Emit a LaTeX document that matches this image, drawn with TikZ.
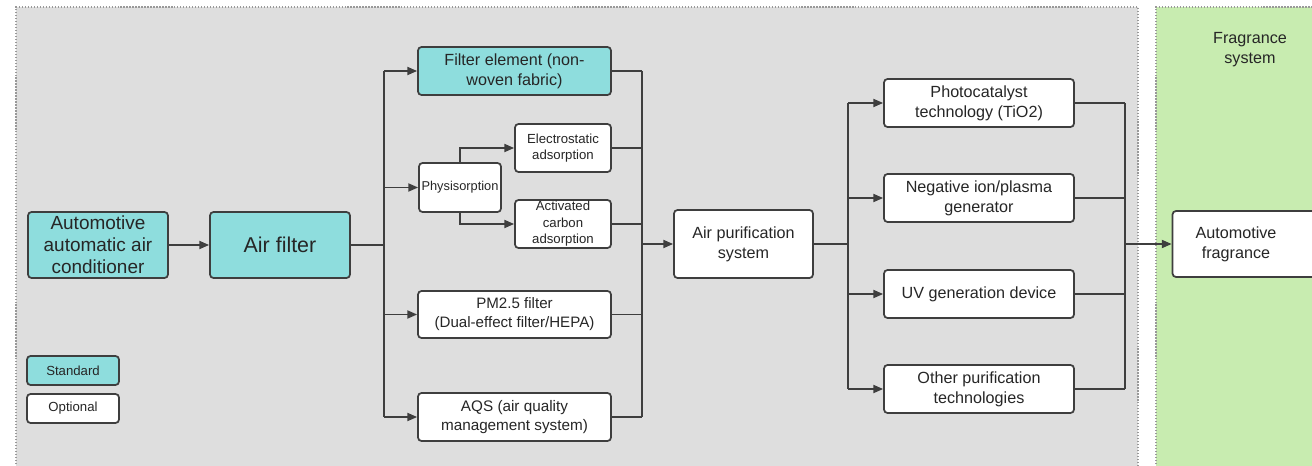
\documentclass[tikz,border=0pt]{standalone}
\usepackage{fontspec}
\setmainfont{Liberation Sans}
\usetikzlibrary{arrows.meta}

\definecolor{stdCyan}{RGB}{142,221,221}
\definecolor{panelGray}{RGB}{222,222,222}
\definecolor{panelGreen}{RGB}{200,236,176}
\definecolor{lineGray}{RGB}{62,62,62}
\definecolor{textGray}{RGB}{38,38,38}

\begin{document}
\begin{tikzpicture}[x=0.02cm,y=-0.02cm,
        line width=1pt,
        baseNode/.style = {draw=lineGray,rounded corners=2pt,text=textGray,align=center,inner sep=0pt,font=\fontsize{9.2}{11.3}\selectfont},
        stdNode/.style = {baseNode,fill=stdCyan},
        optNode/.style = {baseNode,fill=white},
        wideBox/.style = {minimum width=3.86cm,minimum height=0.96cm},
        techBox/.style = {optNode,minimum width=3.8cm,minimum height=0.96cm},
        smallBox/.style = {optNode,minimum width=1.92cm,minimum height=0.96cm,font=\fontsize{7.5}{9.4}\selectfont},
        legendBox/.style = {minimum width=1.84cm,minimum height=0.58cm,font=\fontsize{7.5}{9}\selectfont},
        link/.style = {draw=lineGray,line width=1pt},
        arrowLink/.style = {link,-{Triangle[length=5.6pt,width=4.6pt]}},
        panel/.style = {draw=gray!80,densely dotted,line width=0.7pt}
        ]
    \useasboundingbox (0,0) rectangle (1312,466);
    % background panels
    \fill[panelGray] (16,7) rectangle (1138,470);
    \draw[panel] (16,470) -- (16,7) -- (1138,7) -- (1138,470);
    \fill[panelGreen] (1156,7) rectangle (1320,470);
    \draw[panel] (1156,470) -- (1156,7) -- (1320,7);
    \node[text=textGray,align=center,font=\fontsize{9.2}{11.3}\selectfont] (fragSys) at (1250,50) {Fragrance\\system};

    % source chain
    \node[stdNode,minimum width=2.8cm,minimum height=1.32cm,font=\fontsize{10.8}{12.6}\selectfont] (autoAc) at (98,245) {Automotive\\automatic air\\conditioner};
    \node[stdNode,minimum width=2.8cm,minimum height=1.32cm,font=\fontsize{12.2}{14}\selectfont] (airFilter) at (280,245) {Air filter};

    % filter options
    \node[stdNode,wideBox] (filterElem) at (514.5,71) {Filter element (non-\\woven fabric)};
    \node[optNode,minimum width=1.64cm,minimum height=0.98cm,font=\fontsize{7.3}{9}\selectfont] (physi) at (460,187.5) {Physisorption};
    \node[smallBox] (electro) at (563,148) {Electrostatic\\adsorption};
    \node[smallBox] (carbon) at (563,224) {Activated\\carbon\\adsorption};
    \node[optNode,wideBox,minimum height=0.94cm,font=\fontsize{8.6}{10.8}\selectfont] (pmFilter) at (514.5,314.5) {PM2.5 filter\\(Dual-effect filter/HEPA)};
    \node[optNode,wideBox,font=\fontsize{8.7}{11}\selectfont] (aqs) at (514.5,417) {AQS (air quality\\management system)};

    % purification
    \node[optNode,minimum width=2.78cm,minimum height=1.36cm] (airPur) at (743.5,244) {Air purification\\system};
    \node[techBox] (photo) at (979,103) {Photocatalyst\\technology (TiO2)};
    \node[techBox] (negIon) at (979,198) {Negative ion/plasma\\generator};
    \node[techBox] (uvDev) at (979,294) {UV generation device};
    \node[techBox] (otherTech) at (979,389) {Other purification\\technologies};
    \node[optNode,minimum width=2.9cm,minimum height=1.32cm,text width=2.5cm,inner xsep=0pt] (autoFrag) at (1245,244) {\hspace*{-0.36cm}Automotive\\\hspace*{-0.36cm}fragrance};

    % legend
    \node[stdNode,legendBox] (legStd) at (73,370.5) {Standard};
    \node[optNode,legendBox] (legOpt) at (73,408.5) {Optional};

    % bus lines
    \coordinate (busA) at (384,245);
    \coordinate (busB) at (642,244);
    \coordinate (busC) at (848,244);
    \coordinate (busD) at (1125,244);

    \draw[arrowLink] (autoAc) -- (airFilter);
    \draw[link] (airFilter) -- (busA);
    \draw[link] (busA |- filterElem) -- (busA |- aqs);
    \foreach \n in {filterElem,physi,pmFilter,aqs}
        \draw[arrowLink] (busA |- \n) -- (\n);
    \draw[arrowLink] (physi.north) |- (electro);
    \draw[arrowLink] (physi.south) |- (carbon);
    \foreach \n in {filterElem,electro,carbon,pmFilter,aqs}
        \draw[link] (\n) -- (busB |- \n);
    \draw[link] (busB |- filterElem) -- (busB |- aqs);
    \draw[arrowLink] (busB) -- (airPur);

    \draw[link] (airPur) -- (busC);
    \draw[link] (busC |- photo) -- (busC |- otherTech);
    \foreach \n in {photo,negIon,uvDev,otherTech} {
        \draw[arrowLink] (busC |- \n) -- (\n);
        \draw[link] (\n) -- (busD |- \n);
    }
    \draw[link] (busD |- photo) -- (busD |- otherTech);
    \draw[arrowLink] (busD) -- (autoFrag);
\end{tikzpicture}
\end{document}
